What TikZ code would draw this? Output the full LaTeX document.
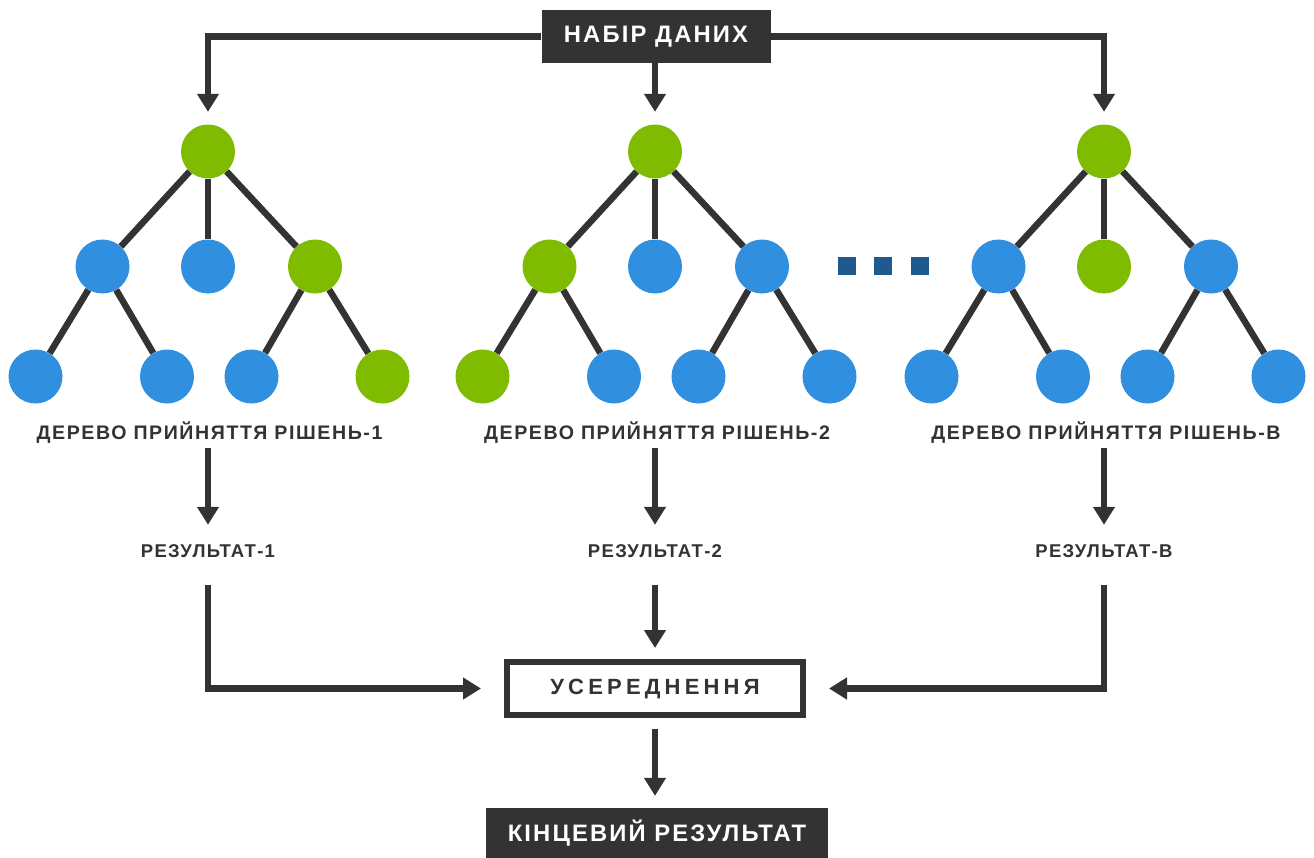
\documentclass[tikz,border=0pt]{standalone}
\usepackage{fontspec}
\setmainfont{Liberation Sans}
\usetikzlibrary{arrows.meta}

\definecolor{ink}{HTML}{333333}
\definecolor{leafgreen}{HTML}{7FBC00}
\definecolor{nodeblue}{HTML}{318FDF}
\definecolor{dotblue}{HTML}{1F5A8F}

\newfontfamily\boxfont[LetterSpace=9]{Liberation Sans}
\newfontfamily\avgfont[LetterSpace=19]{Liberation Sans}
\newfontfamily\labfont[LetterSpace=8]{Liberation Sans}
\newfontfamily\resfont[LetterSpace=7]{Liberation Sans}

\tikzset{
  gnode/.style={circle, fill=leafgreen, minimum size=54pt, inner sep=0pt},
  bnode/.style={circle, fill=nodeblue, minimum size=54pt, inner sep=0pt},
  branch/.style={draw=ink, line width=6.5pt},
  flow/.style={draw=ink, line width=6.5pt, -{Triangle[length=18pt,width=21pt]}},
  darkbox/.style={fill=ink, text=white, inner sep=0pt,
    font=\boxfont\bfseries\fontsize{23.8}{26}\selectfont},
  treelabel/.style={inner sep=0pt, text height=13pt, text depth=0pt, text=ink,
    font=\labfont\bfseries\fontsize{19.6}{22}\selectfont},
  reslabel/.style={inner sep=0pt, text height=13pt, text depth=0pt, text=ink,
    font=\resfont\bfseries\fontsize{18.5}{22}\selectfont},
  dot/.style={fill=dotblue, minimum size=18pt, inner sep=0pt}
}

% #1 tree id, #2 horizontal offset, #3-#9 styles of the second and third rows
\newcommand\mytree[9]{%
  \begin{scope}[xshift=#2]
    \node[gnode] (#1r) at (208,151.5) {};
    \node[#3] (#1a) at (102.5,266.5) {};
    \node[#4] (#1b) at (208,266.5) {};
    \node[#5] (#1c) at (315,266.5) {};
    \node[#6] (#1d) at (35.5,376.5) {};
    \node[#7] (#1e) at (167,376.5) {};
    \node[#8] (#1f) at (251.5,376.5) {};
    \node[#9] (#1g) at (382.5,376.5) {};
    \draw[branch] (#1r) -- (#1a);
    \draw[branch] (#1r) -- (#1b);
    \draw[branch] (#1r) -- (#1c);
    \draw[branch] (#1a) -- (#1d);
    \draw[branch] (#1a) -- (#1e);
    \draw[branch] (#1c) -- (#1f);
    \draw[branch] (#1c) -- (#1g);
  \end{scope}}

\begin{document}
\begin{tikzpicture}[x=1pt,y=-1pt]
  \useasboundingbox[fill=white] (0,0) rectangle (1314,857);

  % data set box and its three feeds
  \node[darkbox, minimum width=229pt, minimum height=53pt] (data) at (656,36.5) {НАБІР ДАНИХ};

  \mytree{p}{0pt}{bnode}{bnode}{gnode}{bnode}{bnode}{bnode}{gnode}
  \mytree{q}{447pt}{gnode}{bnode}{bnode}{gnode}{bnode}{bnode}{bnode}
  \mytree{s}{896pt}{bnode}{gnode}{bnode}{bnode}{bnode}{bnode}{bnode}

  \draw[flow, shorten >=12.5pt] (data.west) -| (pr.north);
  \draw[flow, shorten >=12.5pt] (data.east) -| (sr.north);
  \draw[flow, shorten >=12.5pt] (data.south -| qr) -- (qr.north);

  % ellipsis between the trees
  \node[dot] (d1) at (847,266) {};
  \node[dot] (d2) at (883,266) {};
  \node[dot] (d3) at (920,266) {};

  % tree captions and results
  \node[treelabel] (l1) at (209.5,432.5) {ДЕРЕВО ПРИЙНЯТТЯ РІШЕНЬ-1};
  \node[treelabel] (l2) at (657,432.5) {ДЕРЕВО ПРИЙНЯТТЯ РІШЕНЬ-2};
  \node[treelabel] (l3) at (1106,432.5) {ДЕРЕВО ПРИЙНЯТТЯ РІШЕНЬ-В};

  \node[reslabel] (r1) at (208,550.5) {РЕЗУЛЬТАТ-1};
  \node[reslabel] (r2) at (655,550.5) {РЕЗУЛЬТАТ-2};
  \node[reslabel] (r3) at (1104,550.5) {РЕЗУЛЬТАТ-В};

  \draw[flow, shorten <=9pt, shorten >=19pt] (l1.south -| pr) -- (r1.north -| pr);
  \draw[flow, shorten <=9pt, shorten >=19pt] (l2.south -| qr) -- (r2.north -| qr);
  \draw[flow, shorten <=9pt, shorten >=19pt] (l3.south -| sr) -- (r3.north -| sr);

  % averaging and final result
  \node[draw=ink, line width=6pt, minimum width=296pt, minimum height=53pt, inner sep=0pt,
        text=ink, font=\avgfont\bfseries\fontsize{22}{26}\selectfont] (avg) at (655,688.5) {УСЕРЕДНЕННЯ};
  \node[darkbox, minimum width=342pt, minimum height=50pt] (final) at (657,833) {КІНЦЕВИЙ РЕЗУЛЬТАТ};

  \draw[flow, shorten <=28pt, shorten >=23pt] (r1.south -| pr) |- (avg.west);
  \draw[flow, shorten <=28pt, shorten >=23pt] (r3.south -| sr) |- (avg.east);
  \draw[flow, shorten <=28pt, shorten >=11pt] (r2.south -| qr) -- (avg.north -| qr);
  \draw[flow, shorten <=11pt, shorten >=12pt] (avg.south) -- (final.north -| avg.south);
\end{tikzpicture}
\end{document}
